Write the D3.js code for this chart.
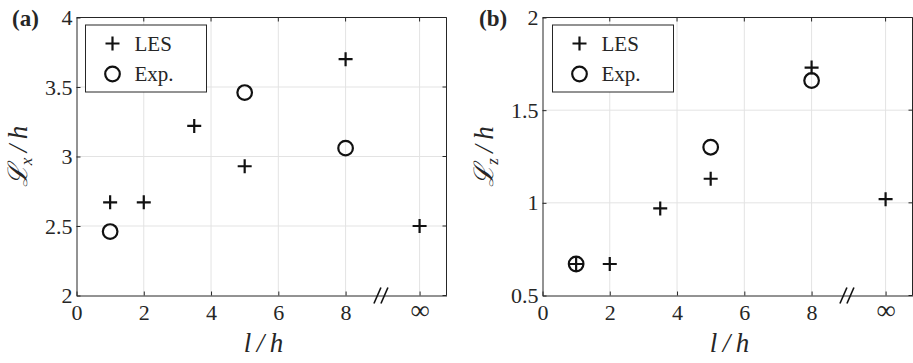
<!DOCTYPE html>
<html>
<head>
<meta charset="utf-8">
<script src="https://cdn.jsdelivr.net/npm/d3@7"></script>
<style>
  body { margin: 0; background: #fff; }
  svg { display: block; }
  text { font-family: "Liberation Serif", "DejaVu Serif", serif; fill: #262626; }
</style>
</head>
<body>
<svg id="chart" width="913" height="363"></svg>
<script>
// x positions (the last one stands for l/h = infinity)
const xCats = [1, 2, 3.5, 5, 8, 10.2];
const infPos = 10.2;
const xTicks = [0, 2, 4, 6, 8];

// panel (a): L_x / h
const lesA = [2.67, 2.67, 3.22, 2.93, 3.70, 2.50];
const expXA = [1, 5, 8];
const expA = [2.46, 3.46, 3.06];
const yTicksA = [2, 2.5, 3, 3.5, 4];

// panel (b): L_z / h
const lesB = [0.67, 0.67, 0.97, 1.13, 1.73, 1.02];
const expXB = [1, 5, 8];
const expB = [0.67, 1.30, 1.66];
const yTicksB = [0.5, 1, 1.5, 2];

const svg = d3.select("#chart");
const axisCol = "#262626";
const markCol = "#111";

function panel(o) {
  const x = d3.scaleLinear().domain([0, 11]).range([o.left, o.right]);
  const y = d3.scaleLinear().domain(o.yDomain).range([o.bottom, o.top]);
  const g = svg.append("g");

  // grid
  const gx = xTicks.slice(1).concat([infPos]);
  g.selectAll(".gx").data(gx).enter().append("line")
    .attr("x1", d => x(d)).attr("x2", d => x(d))
    .attr("y1", o.top).attr("y2", o.bottom)
    .attr("stroke", "#e3e3e3").attr("stroke-width", 1);
  g.selectAll(".gy").data(o.yTicks.slice(1, -1)).enter().append("line")
    .attr("x1", o.left).attr("x2", o.right)
    .attr("y1", d => y(d)).attr("y2", d => y(d))
    .attr("stroke", "#e3e3e3").attr("stroke-width", 1);

  // bottom axis
  const xAxis = d3.axisBottom(x).tickValues(xTicks.concat([infPos]))
    .tickSizeInner(-4).tickSizeOuter(0).tickPadding(9)
    .tickFormat(d => d === infPos ? "\u221E" : d3.format("d")(d));
  const ax = g.append("g").attr("transform", `translate(0,${o.bottom})`).call(xAxis);
  ax.select(".domain").attr("stroke", axisCol);
  ax.selectAll(".tick line").attr("stroke", axisCol);
  ax.selectAll("text").attr("font-size", 22).attr("fill", axisCol)
    .attr("font-family", "Liberation Serif, serif");
  ax.selectAll(".tick text").filter(d => d === infPos)
    .attr("font-family", "DejaVu Serif, serif").attr("font-size", 27).attr("dy", "0.55em");

  // top ticks
  g.selectAll(".tt").data(xTicks.slice(1).concat([infPos])).enter().append("line")
    .attr("x1", d => x(d)).attr("x2", d => x(d))
    .attr("y1", o.top).attr("y2", o.top + 4).attr("stroke", axisCol);

  // left axis
  const yAxis = d3.axisLeft(y).tickValues(o.yTicks)
    .tickSizeInner(-4).tickSizeOuter(0).tickPadding(4)
    .tickFormat(d => d3.format("")(d));
  const ay = g.append("g").attr("transform", `translate(${o.left},0)`).call(yAxis);
  ay.select(".domain").attr("stroke", axisCol);
  ay.selectAll(".tick line").attr("stroke", axisCol);
  ay.selectAll("text").attr("font-size", 22).attr("fill", axisCol)
    .attr("font-family", "Liberation Serif, serif");

  // right ticks + frame
  g.selectAll(".rt").data(o.yTicks).enter().append("line")
    .attr("x1", o.right - 4).attr("x2", o.right)
    .attr("y1", d => y(d)).attr("y2", d => y(d)).attr("stroke", axisCol);
  g.append("line").attr("x1", o.left).attr("x2", o.right)
    .attr("y1", o.top).attr("y2", o.top).attr("stroke", axisCol);
  g.append("line").attr("x1", o.right).attr("x2", o.right)
    .attr("y1", o.top).attr("y2", o.bottom).attr("stroke", axisCol);

  // axis break mark
  const bx = x(9.05);
  [-3.5, 3.5].forEach(dx => {
    g.append("line")
      .attr("x1", bx + dx - 3.5).attr("y1", o.bottom + 8)
      .attr("x2", bx + dx + 3.5).attr("y2", o.bottom - 8)
      .attr("stroke", markCol).attr("stroke-width", 1.6);
  });

  // markers
  const ps = 7;
  g.selectAll(".les").data(xCats.map((v, i) => [v, o.les[i]])).enter().append("path")
    .attr("d", d => `M${x(d[0]) - ps},${y(d[1])}H${x(d[0]) + ps}M${x(d[0])},${y(d[1]) - ps}V${y(d[1]) + ps}`)
    .attr("stroke", markCol).attr("stroke-width", 2.2).attr("fill", "none");
  g.selectAll(".exp").data(o.expX.map((v, i) => [v, o.exp[i]])).enter().append("circle")
    .attr("cx", d => x(d[0])).attr("cy", d => y(d[1])).attr("r", 7.3)
    .attr("stroke", markCol).attr("stroke-width", 2.2).attr("fill", "none");

  // legend
  const lg = g.append("g").attr("transform", `translate(${o.legX},25)`);
  lg.append("rect").attr("width", 121).attr("height", 67)
    .attr("fill", "#fff").attr("stroke", axisCol).attr("stroke-width", 1);
  lg.append("path").attr("d", `M${27 - ps},18.5H${27 + ps}M27,${18.5 - ps}V${18.5 + ps}`)
    .attr("stroke", markCol).attr("stroke-width", 2.2);
  lg.append("circle").attr("cx", 27).attr("cy", 49).attr("r", 7.3)
    .attr("fill", "none").attr("stroke", markCol).attr("stroke-width", 2.2);
  lg.append("text").attr("x", 49).attr("y", 26).attr("font-size", 21).text("LES");
  lg.append("text").attr("x", 49).attr("y", 56).attr("font-size", 21).text("Exp.");

  // panel label
  g.append("text").attr("x", o.tagX).attr("y", 26).attr("font-size", 23)
    .attr("font-weight", "bold").attr("fill", markCol).text(o.tag);

  // axis titles
  g.append("text").attr("x", (o.left + o.right) / 2 + 2).attr("y", 352)
    .attr("text-anchor", "middle").attr("font-size", 27).attr("font-style", "italic")
    .text("l\u2009/\u2009h");
  const yl = g.append("text")
    .attr("transform", `translate(${o.yLabX},${(o.top + o.bottom) / 2}) rotate(-90)`)
    .attr("text-anchor", "middle").attr("font-size", 27).attr("font-style", "italic");
  yl.append("tspan").text("\u2112");
  yl.append("tspan").attr("font-size", 17).attr("dy", 5).text(o.sub);
  yl.append("tspan").attr("dy", -5).text("\u2009/\u2009h");
}

panel({ left: 76.5, right: 446.5, top: 17.5, bottom: 295.5, yDomain: [2, 4], yTicks: yTicksA,
  les: lesA, expX: expXA, exp: expA, legX: 85.5, tag: "(a)", tagX: 12, yLabX: 27, sub: "x" });
panel({ left: 542.5, right: 912.5, top: 17.5, bottom: 295.5, yDomain: [0.5, 2], yTicks: yTicksB,
  les: lesB, expX: expXB, exp: expB, legX: 552.5, tag: "(b)", tagX: 479, yLabX: 493, sub: "z" });
</script>
</body>
</html>
